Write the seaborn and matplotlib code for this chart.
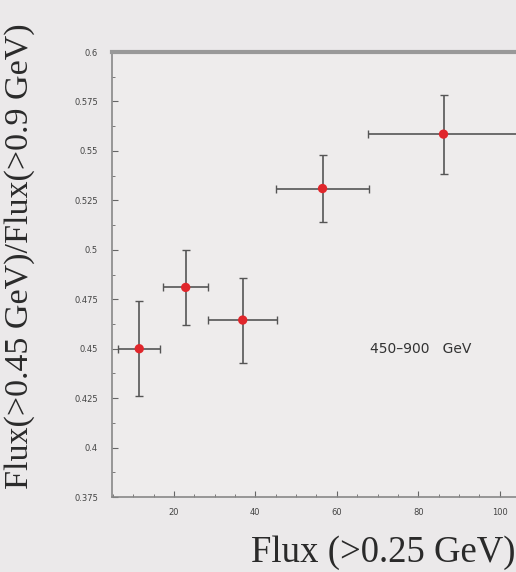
import matplotlib
matplotlib.use("Agg")
import matplotlib.pyplot as plt
import seaborn as sns
import pandas as pd
from matplotlib.ticker import MultipleLocator, FixedLocator

# values
flux = [11.5, 22.9, 36.9, 56.5, 86.2]
flux_err = [5.2, 5.5, 8.5, 11.4, 18.5]
ratio = [0.450, 0.481, 0.4645, 0.531, 0.5585]
ratio_err = [0.024, 0.019, 0.0215, 0.017, 0.020]
y_ticks = [0.375, 0.4, 0.425, 0.45, 0.475, 0.5, 0.525, 0.55, 0.575, 0.6]
y_labels = ["0.375", "0.4", "0.425", "0.45", "0.475", "0.5", "0.525", "0.55", "0.575", "0.6"]
x_ticks = [20, 40, 60, 80, 100]

df = pd.DataFrame({"flux": flux, "ratio": ratio})

sns.set_style("ticks")
bg = "#ebe9ea"
fig = plt.figure(figsize=(5.16, 5.72), dpi=100, facecolor=bg)
ax = fig.add_axes([0.217, 0.131, 0.783, 0.778], facecolor="#eeecec")

ax.errorbar(flux, ratio, xerr=flux_err, yerr=ratio_err, fmt="none",
            ecolor="#555555", elinewidth=1.2, capsize=3, capthick=1.0, zorder=2)
sns.scatterplot(data=df, x="flux", y="ratio", ax=ax, color="#e0262b",
                s=45, edgecolor="none", zorder=3)

ax.text(80.6, 0.45, "450\u2013900   GeV", fontsize=10, color="#333333",
        ha="center", va="center", family="DejaVu Sans")

ax.set_xlim(4.8, 104)
ax.set_ylim(0.375, 0.6)
ax.yaxis.set_major_locator(FixedLocator(y_ticks))
ax.set_yticklabels(y_labels)
ax.yaxis.set_minor_locator(MultipleLocator(0.0125))
ax.xaxis.set_major_locator(FixedLocator(x_ticks))
ax.xaxis.set_minor_locator(MultipleLocator(5))
ax.tick_params(which="both", direction="in", colors="#666666", labelcolor="#444444",
               labelsize=6)
ax.tick_params(which="major", length=4)
ax.tick_params(which="minor", length=2)
ax.tick_params(axis="y", pad=10)
ax.tick_params(axis="x", pad=8)

for s in ["left", "bottom"]:
    ax.spines[s].set_color("#888888")
    ax.spines[s].set_linewidth(1.2)
ax.spines["top"].set_color("#999999")
ax.spines["top"].set_linewidth(3)
ax.spines["right"].set_visible(False)

ax.set_xlabel("")
ax.set_ylabel("")
fig.text(0.038, 0.552, "Flux(>0.45 GeV)/Flux(>0.9 GeV)", rotation=90,
         fontsize=24.5, family="Liberation Serif", color="#2a2a2a",
         ha="center", va="center")
fig.text(0.999, 0.033, "Flux (>0.25 GeV)", fontsize=26.5,
         family="Liberation Serif", color="#2a2a2a", ha="right", va="center")

fig.savefig("out.png", dpi=100, facecolor=bg)
plt.close(fig)
